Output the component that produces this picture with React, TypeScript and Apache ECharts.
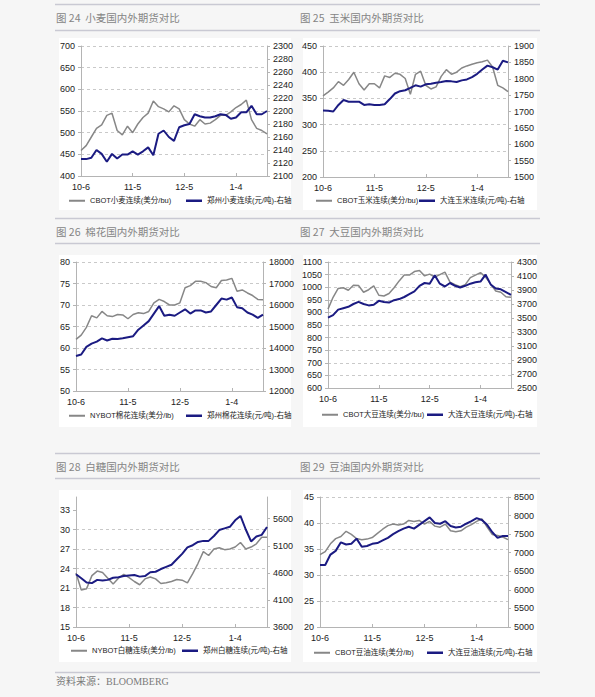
import React, { useEffect, useRef } from 'react';
import * as echarts from 'echarts';

// ---------- data ----------
const xLabels = ['10-6', '11-5', '12-5', '1-4'];
const xLabelIdx = [0, 10, 20, 30];

const wheatCbot = [459, 470, 490, 510, 518, 540, 545, 505, 495, 515, 500, 520, 535, 545, 573, 560, 555, 548, 562, 555, 530, 520, 515, 530, 520, 522, 530, 540, 540, 548, 558, 565, 575, 530, 510, 505, 497];
const wheatZz = [2126, 2126, 2128, 2140, 2134, 2122, 2134, 2127, 2133, 2133, 2138, 2133, 2138, 2144, 2132, 2165, 2170, 2160, 2154, 2175, 2178, 2180, 2195, 2192, 2190, 2190, 2192, 2195, 2194, 2188, 2190, 2198, 2198, 2208, 2195, 2195, 2200];

const cornCbot = [355, 362, 370, 382, 375, 386, 400, 378, 366, 378, 378, 370, 393, 390, 398, 396, 388, 358, 396, 402, 375, 368, 372, 392, 405, 396, 400, 408, 412, 415, 418, 420, 423, 410, 375, 370, 363];
const cornDl = [1703, 1702, 1700, 1720, 1735, 1730, 1730, 1730, 1720, 1722, 1720, 1720, 1722, 1738, 1755, 1762, 1765, 1772, 1780, 1776, 1783, 1785, 1788, 1790, 1793, 1792, 1790, 1795, 1798, 1805, 1815, 1828, 1840, 1835, 1828, 1855, 1850];

const cottonNy = [62.0, 63.0, 64.8, 67.5, 67.0, 68.5, 67.5, 67.3, 67.8, 67.7, 66.8, 67.8, 68.2, 68.0, 68.5, 70.5, 71.3, 70.8, 70.0, 70.0, 70.5, 74.0, 74.5, 75.5, 75.5, 75.2, 74.3, 74.0, 75.7, 75.8, 76.2, 73.2, 73.5, 72.8, 72.2, 71.3, 71.2];
const cottonZz = [13630, 13700, 14050, 14200, 14300, 14450, 14350, 14430, 14420, 14450, 14500, 14550, 14850, 15050, 15250, 15600, 15950, 15500, 15550, 15500, 15650, 15800, 15600, 15750, 15750, 15650, 15700, 16000, 16300, 16250, 16350, 15900, 15850, 15650, 15550, 15400, 15550];

const soyCbot = [913, 960, 995, 998, 988, 1008, 1007, 980, 990, 1005, 968, 965, 975, 998, 1025, 1048, 1048, 1062, 1066, 1045, 1052, 1040, 1050, 1060, 1020, 1010, 1002, 1010, 1038, 1048, 1058, 1040, 1012, 985, 980, 962, 960];
const soyDl = [3505, 3540, 3620, 3640, 3660, 3700, 3730, 3700, 3680, 3690, 3745, 3730, 3720, 3755, 3770, 3800, 3840, 3880, 3960, 4000, 3990, 4110, 3990, 3950, 4000, 3960, 3935, 3960, 3990, 4010, 4020, 4120, 3980, 3920, 3910, 3870, 3830];

const sugarNy = [23.3, 20.7, 20.9, 22.9, 23.6, 23.4, 22.5, 21.6, 22.5, 23.1, 22.6, 22.0, 21.5, 22.4, 22.7, 22.4, 21.7, 21.8, 22.0, 22.3, 22.2, 21.8, 23.2, 24.8, 26.6, 26.0, 27.0, 27.2, 26.9, 27.0, 27.3, 28.0, 27.0, 27.3, 27.8, 28.8, 28.8];
const sugarZz = [4575, 4500, 4420, 4410, 4470, 4460, 4470, 4510, 4520, 4540, 4550, 4560, 4530, 4540, 4610, 4620, 4670, 4710, 4750, 4850, 4950, 5070, 5110, 5170, 5190, 5190, 5280, 5390, 5420, 5450, 5570, 5650, 5400, 5180, 5270, 5300, 5447];

const oilCbot = [33.9, 34.5, 36.0, 37.0, 37.4, 38.4, 37.8, 37.0, 36.8, 36.9, 37.2, 38.0, 38.8, 39.5, 39.8, 39.6, 39.8, 40.5, 40.3, 40.5, 39.8, 40.3, 39.4, 39.2, 39.8, 38.5, 38.3, 38.5, 39.2, 39.7, 40.3, 40.8, 39.2, 37.8, 37.6, 37.3, 36.8];
const oilDl = [6670, 6670, 6950, 7050, 7280, 7220, 7240, 7380, 7160, 7180, 7240, 7260, 7330, 7400, 7500, 7580, 7650, 7700, 7650, 7750, 7850, 7950, 7800, 7780, 7850, 7720, 7680, 7700, 7780, 7850, 7930, 7880, 7750, 7550, 7400, 7450, 7450];

// axis ranges [min, max, interval]
const wheatLeft = [400, 700, 50];
const wheatRight = [2100, 2300, 20];
const cornLeft = [200, 450, 50];
const cornRight = [1500, 1900, 50];
const cottonLeft = [50, 80, 5];
const cottonRight = [12000, 18000, 1000];
const soyLeft = [600, 1100, 50];
const soyRight = [2500, 4300, 200];
const sugarLeft = [15, 35, 3];
const sugarRight = [3600, 6000, 500];
const oilLeft = [20, 45, 5];
const oilRight = [5000, 8500, 500];

const titles = [
  '图 24  小麦国内外期货对比',
  '图 25  玉米国内外期货对比',
  '图 26  棉花国内外期货对比',
  '图 27  大豆国内外期货对比',
  '图 28  白糖国内外期货对比',
  '图 29  豆油国内外期货对比',
];
const grayNames = ['CBOT小麦连续(美分/bu)', 'CBOT玉米连续(美分/bu)', 'NYBOT棉花连续(美分/lb)', 'CBOT大豆连续(美分/bu)', 'NYBOT白糖连续(美分/lb)', 'CBOT豆油连续(美分/lb)'];
const navyNames = ['郑州小麦连续(元/吨)-右轴', '大连玉米连续(元/吨)-右轴', '郑州棉花连续(元/吨)-右轴', '大连大豆连续(元/吨)-右轴', '郑州白糖连续(元/吨)-右轴', '大连豆油连续(元/吨)-右轴'];
const sourceText = '资料来源：BLOOMBERG';

const grayData = [wheatCbot, cornCbot, cottonNy, soyCbot, sugarNy, oilCbot];
const navyData = [wheatZz, cornDl, cottonZz, soyDl, sugarZz, oilDl];
const leftRanges = [wheatLeft, cornLeft, cottonLeft, soyLeft, sugarLeft, oilLeft];
const rightRanges = [wheatRight, cornRight, cottonRight, soyRight, sugarRight, oilRight];

// ---------- layout ----------
const layouts = [
  { grid: { left: 81, top: 46, width: 186, height: 130 }, box: [59, 38, 232, 172], title: [56, 17], legend: [69, 186, 202] },
  { grid: { left: 323, top: 46, width: 185, height: 131 }, box: [303, 38, 234, 172], title: [300, 17], legend: [316, 419, 202] },
  { grid: { left: 76, top: 262, width: 187, height: 129 }, box: [59, 255, 232, 172], title: [56, 231], legend: [69, 186, 417] },
  { grid: { left: 328, top: 262, width: 183, height: 126 }, box: [303, 255, 234, 172], title: [300, 231], legend: [322, 427, 416] },
  { grid: { left: 76, top: 497, width: 191, height: 130 }, box: [59, 490, 232, 172], title: [56, 466], legend: [71, 182, 652] },
  { grid: { left: 320, top: 497, width: 188, height: 130 }, box: [303, 490, 234, 172], title: [300, 466], legend: [314, 427, 654] },
];
const ruleYs = [4.5, 30.5, 218.5, 243.5, 453.5, 478.5, 672.5];

const FONT = "'Liberation Sans', Arial, 'Noto Sans CJK SC', sans-serif";
const CJK = "'Noto Sans CJK SC', sans-serif";
const GRAY = '#878787';
const NAVY = '#1b1b82';
const AXIS = '#b4b4b4';
const GRIDC = '#c9c9c9';

function tickList(r: number[]) {
  const out: number[] = [];
  for (let v = r[0]; v <= r[1] + 1e-9; v += r[2]) out.push(Math.round(v * 1000) / 1000);
  return out;
}

function yAxis(gi: number, r: number[], position: string, split: boolean) {
  const ticks = tickList(r);
  const hideMax = ticks[ticks.length - 1] !== r[1];
  return {
    type: 'value',
    gridIndex: gi,
    position,
    min: r[0],
    max: r[1],
    interval: r[2],
    axisLine: { show: true, lineStyle: { color: AXIS, width: 1 } },
    axisTick: { show: true, length: 3, lineStyle: { color: AXIS }, customValues: ticks },
    axisLabel: {
      fontSize: 9,
      color: '#222',
      fontFamily: FONT,
      margin: 6,
      customValues: ticks,
      formatter: (v: number) => String(v),
    },
    splitLine: { show: split, showMaxLine: !hideMax, lineStyle: { color: GRIDC, type: [3, 3], width: 1 } },
  };
}

export default function App() {
  const ref = useRef<HTMLDivElement>(null);
  useEffect(() => {
    if (!ref.current) return;
    const chart = echarts.init(ref.current, null, { renderer: 'svg' });
    const grids: any[] = [];
    const xAxes: any[] = [];
    const yAxes: any[] = [];
    const series: any[] = [];
    const legends: any[] = [];
    const elements: any[] = [];

    layouts.forEach((L, k) => {
      grids.push({ ...L.grid, containLabel: false });
      const cats = grayData[k].map((_, i) => String(i));
      const showIdx = (i: number) => xLabelIdx.includes(i);
      xAxes.push({
        type: 'category',
        gridIndex: k,
        data: cats,
        boundaryGap: false,
        axisLine: { show: true, lineStyle: { color: AXIS } },
        axisTick: { show: true, inside: true, length: 3, interval: showIdx, lineStyle: { color: AXIS } },
        axisLabel: {
          interval: showIdx,
          fontSize: 9,
          color: '#222',
          fontFamily: FONT,
          margin: 6,
          formatter: (v: string) => {
            const p = xLabelIdx.indexOf(Number(v));
            return p >= 0 ? xLabels[p] : '';
          },
        },
        splitLine: { show: false },
      });
      yAxes.push(yAxis(k, leftRanges[k], 'left', true));
      yAxes.push(yAxis(k, rightRanges[k], 'right', false));
      series.push({
        type: 'line',
        name: grayNames[k],
        xAxisIndex: k,
        yAxisIndex: 2 * k,
        data: grayData[k],
        symbol: 'none',
        showSymbol: false,
        lineStyle: { color: GRAY, width: 1.5 },
        itemStyle: { color: GRAY },
        z: 2,
      });
      series.push({
        type: 'line',
        name: navyNames[k],
        xAxisIndex: k,
        yAxisIndex: 2 * k + 1,
        data: navyData[k],
        symbol: 'none',
        showSymbol: false,
        lineStyle: { color: NAVY, width: 2 },
        itemStyle: { color: NAVY },
        z: 3,
      });
      const [lg, ln, ly] = L.legend;
      [[grayNames[k], lg, 2], [navyNames[k], ln, 2.5]].forEach(([name, x, h]) => {
        legends.push({
          data: [name],
          left: x,
          top: (ly as number) - 5,
          padding: 0,
          icon: 'rect',
          itemWidth: 16,
          itemHeight: h,
          selectedMode: false,
          textStyle: { fontSize: 7.5, color: '#222', fontFamily: FONT },
        });
      });
      const [bx, by, bw, bh] = L.box;
      elements.push({ type: 'rect', z: -1, shape: { x: bx, y: by, width: bw, height: bh }, style: { fill: '#ffffff' } });
      elements.push({
        type: 'text',
        x: L.title[0],
        y: L.title[1],
        style: { text: titles[k], fill: '#858585', fontSize: 10.5, fontFamily: CJK, verticalAlign: 'middle' },
      });
    });
    ruleYs.forEach((y) => {
      elements.push({ type: 'line', shape: { x1: 55, y1: y, x2: 540, y2: y }, style: { stroke: '#c9c9d3', lineWidth: 1.5 } });
    });
    elements.push({
      type: 'text',
      x: 56,
      y: 681,
      style: { text: sourceText, fill: '#7a7a7a', fontSize: 10, fontFamily: "'Liberation Serif', 'Noto Sans CJK SC', serif", verticalAlign: 'middle' },
    });

    chart.setOption({
      animation: false,
      backgroundColor: 'transparent',
      grid: grids,
      xAxis: xAxes,
      yAxis: yAxes,
      series,
      legend: legends,
      graphic: elements,
    });
    return () => chart.dispose();
  }, []);
  return (
    <div
      ref={ref}
      style={{ position: 'absolute', left: 0, top: 0, width: 595, height: 697, background: '#f6f6f6' }}
    />
  );
}
